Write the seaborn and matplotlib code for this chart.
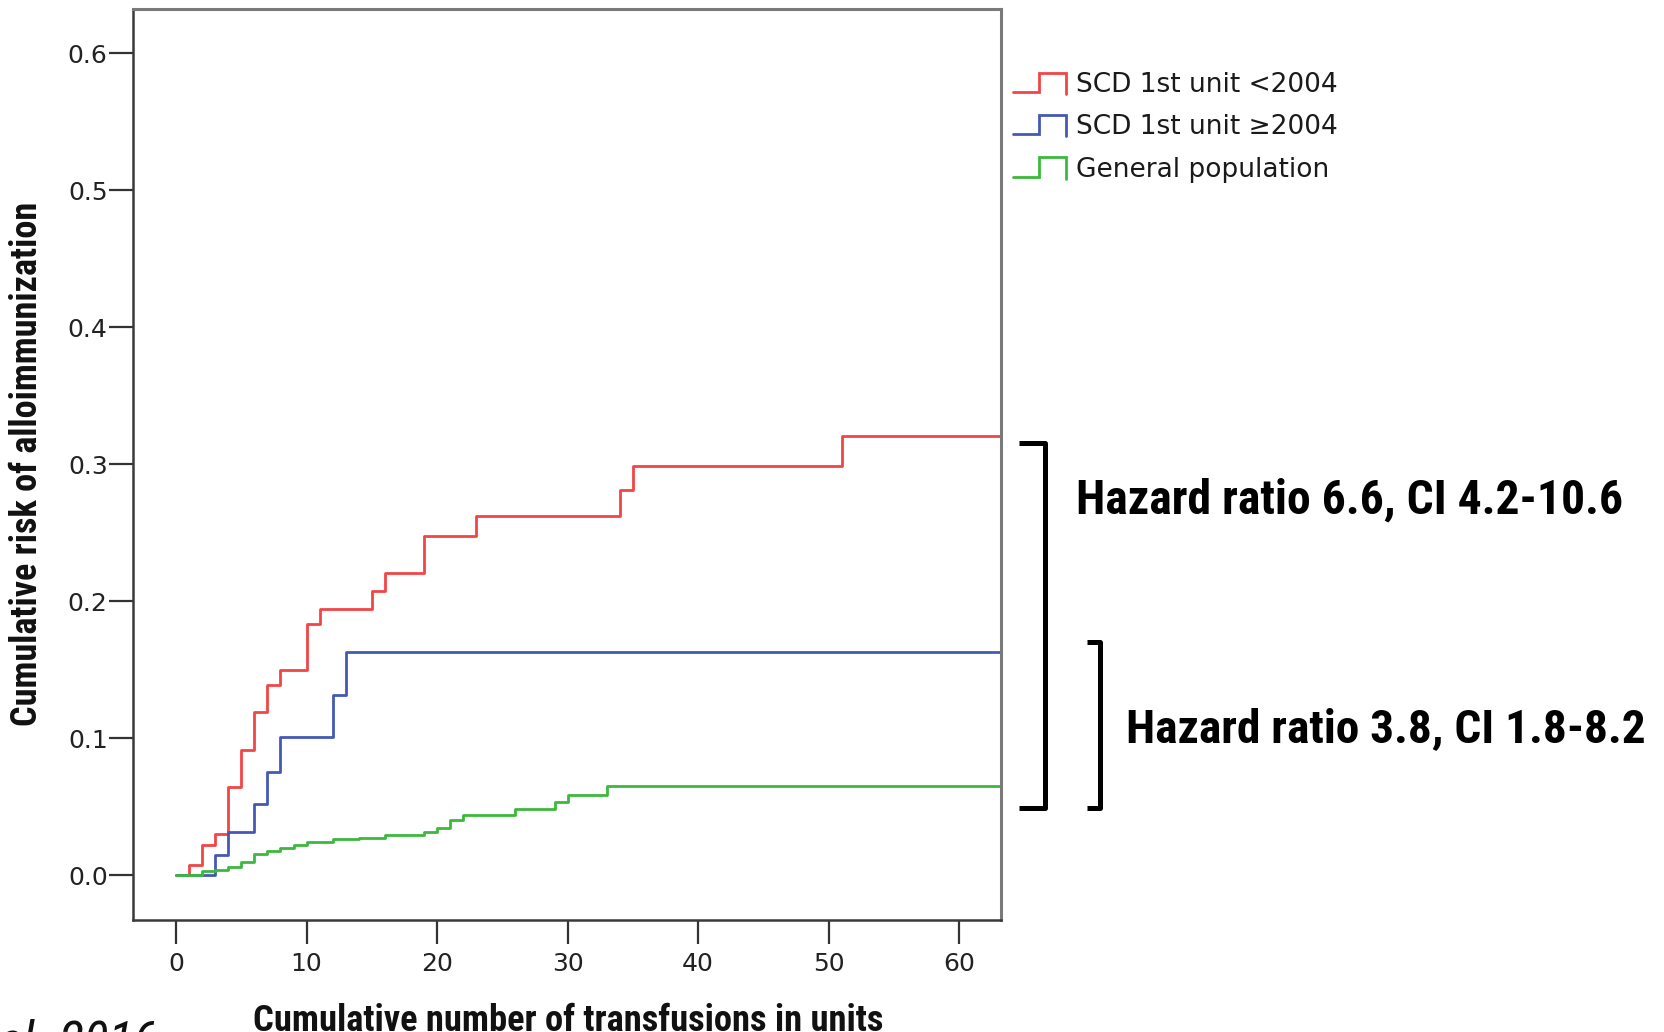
import numpy as np
import pandas as pd
import matplotlib
matplotlib.use("Agg")
import matplotlib.pyplot as plt
import matplotlib.font_manager as fm
import seaborn as sns
from matplotlib.lines import Line2D
from matplotlib.legend_handler import HandlerBase

# ---------------- data ----------------
followup_max = 65

red_x = [0, 1, 2, 3, 4, 5, 6, 7, 8, 10, 11, 15, 16, 19, 23, 34, 35, 51]
red_y = [0, 0.0075, 0.0226, 0.0306, 0.0647, 0.0914, 0.1194, 0.1393, 0.150,
         0.1836, 0.1945, 0.2075, 0.2208, 0.248, 0.2626, 0.281, 0.2986, 0.3204]

blue_x = [0, 3, 4, 6, 7, 8, 12, 13]
blue_y = [0, 0.0146, 0.0319, 0.0518, 0.0756, 0.1012, 0.1318, 0.1629]

green_x = [0, 2, 3, 4, 5, 6, 7, 8, 9, 10, 12, 14, 16, 19, 20, 21, 22, 26, 29, 30, 33]
green_y = [0, 0.003, 0.004, 0.006, 0.010, 0.016, 0.018, 0.020, 0.0226, 0.0246,
           0.0263, 0.0275, 0.0294, 0.0319, 0.0348, 0.0408, 0.0442, 0.0487,
           0.0538, 0.059, 0.0656]

series_names = ["SCD 1st unit <2004", "SCD 1st unit \u22652004", "General population"]
series_colors = ["#F24545", "#4459B4", "#3CB93C"]

x_ticks = [0, 10, 20, 30, 40, 50, 60]
y_ticks = [0.0, 0.1, 0.2, 0.3, 0.4, 0.5, 0.6]

x_label = "Cumulative number of transfusions in units"
y_label = "Cumulative risk of alloimmunization"
hr_texts = ["Hazard ratio 6.6, CI 4.2-10.6", "Hazard ratio 3.8, CI 1.8-8.2"]
source_text = "et al. 2016"

# ---------------- build frame ----------------
frames = []
for name, xs, ys in zip(series_names, [red_x, blue_x, green_x], [red_y, blue_y, green_y]):
    xx = list(xs) + [followup_max]
    yy = list(ys) + [ys[-1]]
    frames.append(pd.DataFrame({"units": xx, "risk": yy, "group": name}))
df = pd.concat(frames, ignore_index=True)

sns.set_theme(style="white")
plt.rcParams["font.family"] = ["DejaVu Sans"]

# pick a narrow font for the Calibri-like labels
available = {f.name for f in fm.fontManager.ttflist}
narrow = "DejaVu Sans"
for cand in ["Liberation Sans Narrow", "Roboto Condensed", "Open Sans Condensed",
             "Lato", "Roboto"]:
    if cand in available:
        narrow = cand
        break
cond = [narrow, "DejaVu Sans"]

W, H = 1664, 1032
fig = plt.figure(figsize=(W / 100, H / 100), dpi=100)
ax = fig.add_axes([132.7 / W, 1 - 920 / H, (1001 - 132.7) / W, (920 - 8.7) / H])

sns.lineplot(data=df, x="units", y="risk", hue="group", hue_order=series_names,
             palette=series_colors, drawstyle="steps-post", estimator=None,
             errorbar=None, linewidth=2.0, legend=False, ax=ax)

ax.set_xlim(-3.32, 63.2)
ax.set_ylim(-0.0325, 0.6326)
ax.set_xticks(x_ticks)
ax.set_yticks(y_ticks)
ax.set_xticklabels([str(v) for v in x_ticks])
ax.set_yticklabels([f"{v:.1f}" for v in y_ticks])
ax.set_xlabel("")
ax.set_ylabel("")
ax.tick_params(axis="both", which="major", direction="out", length=17, width=1.6,
               color="#333333", labelsize=18, labelcolor="#222222",
               left=True, bottom=True)
ax.tick_params(axis="y", pad=1)
ax.tick_params(axis="x", pad=6)

for side in ["left", "bottom"]:
    ax.spines[side].set_color("#3a3a3a")
    ax.spines[side].set_linewidth(1.8)
for side in ["top", "right"]:
    ax.spines[side].set_color("#7a7a7a")
    ax.spines[side].set_linewidth(2.2)
    ax.spines[side].set_visible(True)


# ---------------- step-shaped legend handles ----------------
class StepHandler(HandlerBase):
    def create_artists(self, legend, orig_handle, xdescent, ydescent, width,
                       height, fontsize, trans):
        x0 = -xdescent
        xm = x0 + 0.5 * width
        x1 = x0 + width
        ylo = -ydescent + 0.0 * height
        yhi = -ydescent + 1.05 * height
        ln = Line2D([x0, xm, xm, x1, x1], [ylo, ylo, yhi, yhi, ylo - 0.1 * height],
                    color=orig_handle.get_color(), linewidth=orig_handle.get_linewidth(),
                    solid_joinstyle="miter")
        ln.set_transform(trans)
        return [ln]


handles = [Line2D([], [], color=c, linewidth=2.0) for c in series_colors]
leg = fig.legend(handles, series_names, loc="upper left",
                 bbox_to_anchor=(1013 / W, 1 - 72 / H), frameon=False,
                 fontsize=19, handlelength=2.0, handletextpad=0.4,
                 labelspacing=0.62, borderpad=0, borderaxespad=0,
                 handler_map={Line2D: StepHandler()})
for t in leg.get_texts():
    t.set_color("#1a1a1a")

# ---------------- text helpers ----------------
renderer = fig.canvas.get_renderer()


def fit(txt, target, along="width"):
    bb = txt.get_window_extent(renderer)
    size = bb.width if along == "width" else bb.height
    txt.set_fontsize(txt.get_fontsize() * target / size)


xl = fig.text(568 / W, 1 - 1003 / H, x_label, ha="center", va="top",
              fontsize=22, fontweight="bold", family=cond, color="#111111")
fit(xl, 632)
yl = fig.text(27 / W, 1 - 464 / H, y_label, ha="center", va="center",
              rotation=90, fontsize=22, fontweight="bold", family=cond,
              color="#111111")
fit(yl, 525, along="height")

src = fig.text(158 / W, 1 - 1057 / H, source_text, ha="right", va="baseline",
               fontsize=37, style="italic", family=cond, color="#111111")


# ---------------- brackets and hazard ratios ----------------
def bracket(x_left, x_right, y_top, y_bot):
    xs = [x_left / W, x_right / W, x_right / W, x_left / W]
    ys = [1 - y_top / H, 1 - y_top / H, 1 - y_bot / H, 1 - y_bot / H]
    fig.add_artist(Line2D(xs, ys, transform=fig.transFigure, color="black",
                          linewidth=3.6, solid_joinstyle="round",
                          solid_capstyle="butt"))

bracket(1019, 1044.5, 442.7, 808)
bracket(1087, 1100.4, 641.7, 808)

h1 = fig.text(1076 / W, 1 - 500 / H, hr_texts[0], ha="left", va="center",
              fontsize=30, fontweight="bold", family=cond, color="black")
fit(h1, 547)
h2 = fig.text(1126 / W, 1 - 729 / H, hr_texts[1], ha="left", va="center",
              fontsize=30, fontweight="bold", family=cond, color="black")
fit(h2, 520)

fig.savefig("out.png", dpi=100, facecolor="white")
